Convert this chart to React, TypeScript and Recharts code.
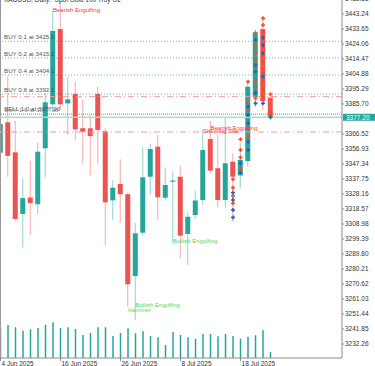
import { Bar, ComposedChart, ReferenceLine, Scatter, XAxis, YAxis } from 'recharts'

// Daily XAUUSD candles, 4 Jun – 24 Jul 2025
const dates = [
  '4 Jun', '5 Jun', '6 Jun', '9 Jun', '10 Jun', '11 Jun', '12 Jun', '13 Jun',
  '16 Jun', '17 Jun', '18 Jun', '19 Jun', '20 Jun', '23 Jun', '24 Jun', '25 Jun',
  '26 Jun', '27 Jun', '30 Jun', '1 Jul', '2 Jul', '3 Jul', '4 Jul', '7 Jul',
  '8 Jul', '9 Jul', '10 Jul', '11 Jul', '14 Jul', '15 Jul', '16 Jul', '17 Jul',
  '18 Jul', '21 Jul', '22 Jul', '23 Jul', '24 Jul',
]
const open = [
  3354.6, 3374.0, 3354.8, 3315.4, 3325.9, 3321.6, 3357.4, 3385.5,
  3433.6, 3386.1, 3392.1, 3370.2, 3370.2, 3392.1, 3368.4, 3324.1,
  3334.6, 3328.0, 3275.7, 3303.4, 3339.2, 3358.4, 3325.8, 3336.0,
  3339.2, 3302.6, 3314.7, 3324.3, 3363.3, 3344.6, 3324.3, 3348.8,
  3340.0, 3349.2, 3390.0, 3433.6, 3389.7,
]
const high = [
  3385.0, 3403.6, 3375.0, 3338.2, 3349.3, 3361.0, 3392.9, 3446.0,
  3451.5, 3403.1, 3400.0, 3388.3, 3378.7, 3396.8, 3370.3, 3337.1,
  3350.3, 3329.0, 3309.8, 3358.0, 3360.1, 3365.9, 3345.2, 3342.4,
  3346.0, 3316.9, 3330.3, 3369.0, 3374.8, 3366.3, 3377.0, 3354.0,
  3361.0, 3400.4, 3433.5, 3440.5, 3392.5,
]
const low = [
  3345.0, 3339.2, 3311.0, 3293.9, 3301.9, 3315.2, 3338.8, 3382.0,
  3382.0, 3365.9, 3362.4, 3347.8, 3340.3, 3347.1, 3295.2, 3311.5,
  3309.8, 3256.1, 3247.6, 3301.9, 3328.0, 3311.5, 3323.9, 3297.0,
  3287.0, 3282.8, 3312.2, 3321.1, 3341.4, 3320.0, 3319.4, 3310.5,
  3332.0, 3345.6, 3383.8, 3381.9, 3375.9,
]
const close = [
  3372.9, 3352.5, 3312.2, 3325.5, 3322.4, 3355.2, 3386.8, 3432.4,
  3385.5, 3388.7, 3369.5, 3368.0, 3365.2, 3369.1, 3322.8, 3332.2,
  3328.0, 3270.4, 3303.0, 3338.8, 3356.9, 3326.1, 3333.9, 3336.8,
  3301.5, 3313.6, 3324.0, 3356.3, 3343.1, 3324.3, 3347.8, 3339.2,
  3350.0, 3396.8, 3431.5, 3387.6, 3377.2,
]
// tick volume, thousands
const volume = [
  210, 231, 215, 191, 201, 210, 233, 250,
  210, 215, 203, 161, 175, 215, 215, 154,
  175, 208, 173, 187, 154, 145, 91, 182,
  161, 145, 135, 168, 168, 152, 168, 154,
  135, 149, 159, 194, 42,
]

const xTickIdx = [0, 8, 16, 24, 32]
const xTickLabels = ['4 Jun 2025', '16 Jun 2025', '26 Jun 2025', '8 Jul 2025', '18 Jul 2025']
// 3376.11 sits under the last-price box, so it is left out
const priceTicks = [
  3452.83, 3443.24, 3433.65, 3424.06, 3414.47, 3404.88, 3395.29, 3385.7,
  3366.52, 3356.93, 3347.34, 3337.75, 3328.16, 3318.57, 3308.98,
  3299.39, 3289.8, 3280.21, 3270.62, 3261.03, 3251.44, 3241.85, 3232.26,
]

const buyLevels = [3425.8, 3415.2, 3404.2, 3392.1]
const buyLabels = ['BUY 0.1 at 3425.8', 'BUY 0.2 at 3415.2', 'BUY 0.4 at 3404.2', 'BUY 0.8 at 3392.1']
const stopLevels = [3390.4, 3367.8]
const sellLevel = 3379.2
const lastPrice = 3377.2

const patterns = [
  { i: 7, p: 3444.3, text: 'Bearish Engulfing', bull: false },
  { i: 27, p: 3367.0, text: 'Shooting Star', bull: false },
  { i: 28, p: 3369.2, text: 'Bearish Engulfing', bull: false },
  { i: 23, p: 3297.0, text: 'Bullish Engulfing', bull: true },
  { i: 18, p: 3255.8, text: 'Bullish Engulfing', bull: true },
  { i: 17, p: 3252.4, text: 'Hammer', bull: true },
]

// grid order markers drawn on the last candles
const redMarks = [
  [31, 3337.6], [31, 3332.2], [31, 3326.9], [31, 3322.2],
  [32, 3363.1], [32, 3356.3], [32, 3351.6], [32, 3344.0],
  [33, 3400.0], [33, 3387.2], [33, 3381.9], [33, 3370.2], [33, 3364.8],
  [34, 3430.9], [34, 3423.4], [34, 3418.5], [34, 3413.8], [34, 3408.9], [34, 3401.0], [34, 3396.1], [34, 3389.3],
  [35, 3440.5], [35, 3436.2], [35, 3431.9], [35, 3422.3], [35, 3417.0], [35, 3412.7], [35, 3405.3], [35, 3400.0], [35, 3394.6], [35, 3390.4],
  [36, 3391.9], [36, 3380.4],
]
const blueMarks = [
  [31, 3329.0], [31, 3324.3], [31, 3317.9], [31, 3313.2],
  [32, 3347.8], [32, 3341.8],
  [33, 3384.0], [33, 3378.7], [33, 3373.4], [33, 3361.6], [33, 3356.3],
  [34, 3426.6], [34, 3410.6], [34, 3406.3], [34, 3392.9], [34, 3386.1],
  [35, 3428.1], [35, 3423.4], [35, 3418.1], [35, 3403.2], [35, 3386.1],
  [36, 3377.2],
]

const BULL = '#26a69a'
const BEAR = '#ef5350'
const AXIS = '#8c8c8c'
const FONT = '"Liberation Sans", Arial, sans-serif'
const X_DOMAIN: [number, number] = [-0.067, 45.53]
const Y_DOMAIN: [number, number] = [3223.3, 3452.19]

const data = dates.map((date, i) => ({
  i,
  date,
  o: open[i],
  h: high[i],
  l: low[i],
  c: close[i],
  range: [low[i], high[i]],
  vol: volume[i],
}))

const redData = redMarks.map(([i, p]) => ({ i, p }))
const blueData = blueMarks.map(([i, p]) => ({ i, p }))

function Candle(props: any) {
  const { x, y, width, height, payload } = props
  if (!payload || height == null) return null
  const { o, h, l, c } = payload
  const color = c >= o ? BULL : BEAR
  const top0 = Math.min(y, y + height)
  const hgt = Math.abs(height)
  const cx = x + width / 2
  const yOf = (v: number) => top0 + ((h - v) / (h - l || 1)) * hgt
  const bTop = yOf(Math.max(o, c))
  const bBot = yOf(Math.min(o, c))
  return (
    <g>
      <line x1={cx} x2={cx} y1={top0} y2={top0 + hgt} stroke={color} strokeOpacity={0.5} />
      <rect x={x} y={bTop} width={width} height={Math.max(1, bBot - bTop)} fill={color} />
    </g>
  )
}

const plus = (color: string) => (props: any) => {
  const { cx, cy } = props
  return (
    <g stroke={color} strokeWidth={1.5}>
      <line x1={cx - 2} x2={cx + 2} y1={cy} y2={cy} />
      <line x1={cx} x2={cx} y1={cy - 2} y2={cy + 2} />
    </g>
  )
}

function PatternLabel(props: any) {
  const { cx, cy, payload } = props
  return (
    <text x={cx} y={cy} fontSize={6} fontFamily={FONT} fill={payload.bull ? '#5bd45b' : '#f0403c'}>
      {payload.text}
    </text>
  )
}

function DateTick(props: any) {
  const { x, y, index } = props
  return (
    <text x={x + 1} y={y + 3} fontSize={6.5} fontFamily={FONT} fill="#333" textAnchor="start">
      {xTickLabels[index]}
    </text>
  )
}

const orderLabel = (text: string) => (props: any) => {
  const vb = props.viewBox
  return (
    <text x={4} y={vb.y - 2} fontSize={6.2} fontFamily={FONT} fill="#555">
      {text}
    </text>
  )
}

function PriceBox(props: any) {
  const vb = props.viewBox
  const right = vb.x + vb.width
  return (
    <g>
      <rect x={right + 1} y={vb.y - 3.5} width={33} height={7} fill={BULL} />
      <text x={right + 4} y={vb.y + 2.3} fontSize={6.5} fontFamily={FONT} fill="#fff">
        {lastPrice.toFixed(2)}
      </text>
    </g>
  )
}

function SellLabel(props: any) {
  const vb = props.viewBox
  return (
    <g fontSize={6.2} fontFamily={FONT} fill="#555">
      <text x={4} y={vb.y - 3}>SELL 1.0 at 3377.20</text>
      <text x={4.5} y={vb.y - 2.5} fillOpacity={0.7}>BUY 1.6 at 3377.08</text>
    </g>
  )
}

export default function App() {
  return (
    <div style={{ position: 'relative', width: 375, height: 366, overflow: 'hidden', background: '#fff' }}>
      <style>{'body{margin:0}'}</style>
      <ComposedChart width={375} height={366} data={data} margin={{ top: 0, right: 0, bottom: 0, left: 0 }}>
        <XAxis
          xAxisId="p"
          type="number"
          dataKey="i"
          domain={X_DOMAIN}
          allowDataOverflow
          ticks={xTickIdx}
          interval={0}
          tick={<DateTick />}
          tickSize={3}
          height={8}
          stroke={AXIS}
        />
        <XAxis xAxisId="v" type="number" dataKey="i" domain={X_DOMAIN} allowDataOverflow hide />
        <YAxis
          yAxisId="p"
          orientation="right"
          domain={Y_DOMAIN}
          allowDataOverflow
          ticks={priceTicks}
          interval={0}
          width={33}
          tickSize={2}
          tickMargin={1}
          stroke={AXIS}
          tick={{ fontSize: 6.5, fontFamily: FONT, fill: '#333' }}
          tickFormatter={(v: number) => v.toFixed(2)}
        />
        <YAxis yAxisId="v" domain={[0, 2506]} hide />

        <ReferenceLine xAxisId="p" yAxisId="p" x={X_DOMAIN[0]} stroke="#999" strokeWidth={2} />

        {buyLevels.map((lv, k) => (
          <ReferenceLine
            key={lv}
            xAxisId="p"
            yAxisId="p"
            y={lv}
            stroke={BULL}
            strokeOpacity={0.75}
            strokeDasharray="1 2"
            label={orderLabel(buyLabels[k])}
          />
        ))}
        {stopLevels.map((lv) => (
          <ReferenceLine
            key={lv}
            xAxisId="p"
            yAxisId="p"
            y={lv}
            stroke="#f59b9b"
            strokeDasharray="6 3 1 3"
          />
        ))}
        <ReferenceLine xAxisId="p" yAxisId="p" y={sellLevel} stroke={BULL} strokeOpacity={0.6} strokeWidth={1.5} strokeDasharray="1 1" label={<SellLabel />} />
        <ReferenceLine xAxisId="p" yAxisId="p" y={lastPrice} stroke="#a8dcd6" strokeWidth={1.5} label={<PriceBox />} />

        <Bar xAxisId="v" yAxisId="v" dataKey="vol" barSize={1.5} fill={BULL} isAnimationActive={false} />
        <Bar xAxisId="p" yAxisId="p" dataKey="range" barSize={5} shape={<Candle />} isAnimationActive={false} />

        <Scatter xAxisId="p" yAxisId="p" data={redData} dataKey="p" shape={plus('#f4511e')} isAnimationActive={false} />
        <Scatter xAxisId="p" yAxisId="p" data={blueData} dataKey="p" shape={plus('#1e63c8')} isAnimationActive={false} />
        <Scatter xAxisId="p" yAxisId="p" data={patterns} dataKey="p" shape={<PatternLabel />} isAnimationActive={false} />
      </ComposedChart>
      <div
        style={{
          position: 'absolute',
          left: 4,
          top: -4,
          fontSize: 6.5,
          fontFamily: FONT,
          color: '#333',
          whiteSpace: 'pre',
        }}
      >
        {'XAUUSD, Daily:  Spot Gold 100 Troy Oz'}
      </div>
    </div>
  )
}
